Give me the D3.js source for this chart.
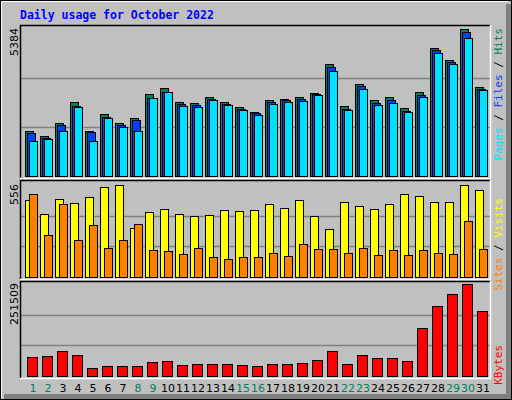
<!DOCTYPE html>
<html>
<head>
<meta charset="utf-8">
<script src="https://cdn.jsdelivr.net/npm/d3@7"></script>
<style>body{margin:0;}</style>
</head>
<body>
<svg width="512" height="400"></svg>
<script>
const days = d3.range(1, 32);
const weekends = [1, 2, 8, 9, 15, 16, 22, 23, 29, 30];
const hits = [1637,1454,1930,2700,1637,2260,1930,2113,2993,3212,2700,2663,2883,2700,2516,2333,2784,2820,2883,3029,4091,2553,3359,2784,2883,2480,3066,4678,4238,5384,3249];
const files = [1564,1403,1857,2564,1601,2161,1857,2040,2857,3077,2626,2590,2809,2626,2443,2297,2711,2773,2820,2993,4004,2465,3286,2663,2773,2381,2956,4604,4165,5286,3176];
const pages = [1271,1344,1637,2516,1271,2113,1784,1637,2846,3066,2564,2527,2773,2590,2407,2223,2626,2700,2736,2956,3846,2407,3176,2590,2663,2333,2883,4494,4091,5044,3139];
const visits = [465,378,469,445,481,542,556,299,390,408,378,366,372,402,396,402,439,415,463,366,293,451,432,408,439,499,487,451,451,556,523];
const sites = [499,251,439,226,317,178,226,323,166,160,141,178,123,111,123,123,148,129,202,172,172,148,178,135,166,135,166,148,141,336,172];
const kbytes = [53000,55700,69400,58500,22800,28300,28300,28300,39300,42000,31000,33800,33800,33800,31000,28300,33800,33800,36500,44700,69400,33800,58500,50200,50200,42000,132500,190100,223000,251509,176400];

const svg = d3.select("svg");
const W = 512, H = 400;
const font = "DejaVu Sans Mono";

// frame
svg.append("rect").attr("width", W).attr("height", H).attr("fill", "#C0C0C0");
svg.append("rect").attr("x", 0.5).attr("y", 0.5).attr("width", W - 1).attr("height", H - 1)
	.attr("fill", "none").attr("stroke", "#000");
svg.append("path").attr("d", "M1.5,398 V1.5 H508").attr("fill", "none").attr("stroke", "#fff");
svg.append("rect").attr("x", 506).attr("y", 4).attr("width", 5).attr("height", 395).attr("fill", "#808080");
svg.append("rect").attr("x", 4).attr("y", 394).attr("width", 507).attr("height", 5).attr("fill", "#808080");
svg.append("path").attr("d", "M511.5,0 V399.5 H0").attr("fill", "none").attr("stroke", "#000");

svg.append("text").attr("x", 20).attr("y", 19)
	.attr("font-family", font).attr("font-weight", "bold").attr("font-size", "11.5px")
	.attr("fill", "#0000FF").text("Daily usage for October 2022");

const x = d3.scaleBand().domain(days).range([25, 490]).paddingInner(0);

const panels = [
	{ top: 25, bottom: 178, y: d3.scaleLinear().domain([0, 5384]).range([176, 29]), max: "5384" },
	{ top: 180, bottom: 279, y: d3.scaleLinear().domain([0, 556]).range([277, 185]), max: "556" },
	{ top: 281, bottom: 378, y: d3.scaleLinear().domain([0, 251509]).range([376, 284]), max: "251509" }
];

panels.forEach((p) => {
	const g = svg.append("g");
	[1 / 3, 2 / 3].forEach((f) => {
		const yy = Math.round(p.y(p.y.domain()[1] * f)) + 0.5;
		g.append("line").attr("x1", 21).attr("x2", 490).attr("y1", yy).attr("y2", yy)
			.attr("stroke", "#808080").attr("stroke-width", 1.5);
	});
	g.append("path").attr("d", `M20.5,${p.bottom} V${p.top + 0.5} H490`)
		.attr("fill", "none").attr("stroke", "#000").attr("stroke-width", 1.5);
	g.append("path").attr("d", `M490.5,${p.top} V${p.bottom + 0.5} H20`)
		.attr("fill", "none").attr("stroke", "#fff").attr("stroke-width", 1.5);
	g.append("text")
		.attr("transform", `translate(18,${p.y.range()[1] - 1}) rotate(-90)`)
		.attr("text-anchor", "end").attr("font-family", "DejaVu Sans").attr("font-size", "11px")
		.attr("fill", "#000").text(p.max);
	p.g = g;
});

function bars(g, data, y, dx, w, color) {
	g.append("g").selectAll("rect").data(data).join("rect")
		.attr("x", (d, i) => x(days[i]) + dx + 0.5)
		.attr("y", (d) => Math.round(y(d)) + 0.5)
		.attr("width", w)
		.attr("height", (d) => Math.max(0, Math.round(y(0)) - Math.round(y(d))))
		.attr("fill", color).attr("stroke", "#000").attr("stroke-width", 1);
}

bars(panels[0].g, hits, panels[0].y, 0, 8, "#00805C");
bars(panels[0].g, files, panels[0].y, 2, 8, "#0040FF");
bars(panels[0].g, pages, panels[0].y, 4, 8, "#00E0FF");
bars(panels[1].g, visits, panels[1].y, 0, 8, "#FFFF00");
bars(panels[1].g, sites, panels[1].y, 4, 8, "#FF8000");
bars(panels[2].g, kbytes, panels[2].y, 2, 10, "#FF0000");

// right-side legends
function legend(parts, yEnd) {
	const t = svg.append("text")
		.attr("transform", `translate(502,${yEnd}) rotate(-90)`)
		.attr("text-anchor", "end").attr("font-family", font).attr("font-size", "11px");
	parts.forEach(([s, c]) => t.append("tspan").attr("fill", c).text(s));
}
legend([["Pages", "#00E0FF"], [" / ", "#000"], ["Files", "#0040FF"], [" / ", "#000"], ["Hits", "#00805C"]], 28);
legend([["Sites", "#FF8000"], [" / ", "#000"], ["Visits", "#FFFF00"]], 198);
legend([["KBytes", "#FF0000"]], 345);

// day labels
svg.append("g").selectAll("text").data(days).join("text")
	.attr("x", (d) => x(d) + 8)
	.attr("y", 392)
	.attr("text-anchor", "middle").attr("font-family", "DejaVu Sans").attr("font-size", "11px")
	.attr("fill", (d) => weekends.includes(d) ? "#00805C" : "#000")
	.text((d) => d);
</script>
</body>
</html>
